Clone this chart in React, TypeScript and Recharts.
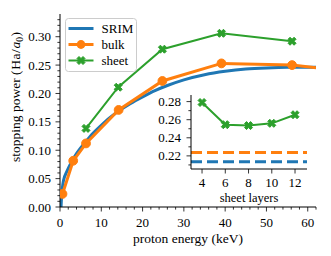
import React from "react";
import { ComposedChart, Line, XAxis, YAxis, CartesianGrid } from "recharts";

const FONT = "'Liberation Serif', 'Times New Roman', serif";
const BLUE = "#1f77b4";
const ORANGE = "#ff7f0e";
const GREEN = "#2ca02c";

// Main panel data
const srimEnergy = [0.25, 0.4, 0.6, 0.8, 1, 1.5, 2, 3, 4, 5, 6, 8, 10, 12, 14, 17, 20, 23, 26, 30, 35, 40, 45, 50, 55, 62];
const srimPower = [0.0, 0.02, 0.035, 0.045, 0.051, 0.06, 0.068, 0.082, 0.094, 0.104, 0.113, 0.13, 0.144, 0.157, 0.168, 0.182, 0.194, 0.205, 0.214, 0.224, 0.233, 0.239, 0.243, 0.245, 0.246, 0.246];
const bulkEnergy = [0.6, 3.2, 6.3, 14.2, 24.8, 39.1, 56.2, 80];
const bulkPower = [0.023, 0.0815, 0.112, 0.171, 0.222, 0.253, 0.25, 0.23];
const sheetEnergy = [6.3, 14.1, 24.8, 39.1, 56.2];
const sheetPower = [0.1385, 0.211, 0.278, 0.306, 0.292];

const mainXMajor = [0, 10, 20, 30, 40, 50, 60];
const mainXMinor = [2, 4, 6, 8, 12, 14, 16, 18, 22, 24, 26, 28, 32, 34, 36, 38, 42, 44, 46, 48, 52, 54, 56, 58, 62];
const mainYMajor = [0, 0.05, 0.1, 0.15, 0.2, 0.25, 0.3];
const mainYMinor = [0.01, 0.02, 0.03, 0.04, 0.06, 0.07, 0.08, 0.09, 0.11, 0.12, 0.13, 0.14, 0.16, 0.17, 0.18, 0.19, 0.21, 0.22, 0.23, 0.24, 0.26, 0.27, 0.28, 0.29, 0.31, 0.32, 0.33];

// Inset data
const layers = [4, 6, 8, 10, 12];
const sheetLayerPower = [0.279, 0.2545, 0.2535, 0.256, 0.2655];
const insetRange = [3.05, 13.03];
const bulkRef = 0.2237;
const srimRef = 0.2134;
const insetXMajor = [4, 6, 8, 10, 12];
const insetYMajor = [0.22, 0.24, 0.26, 0.28];
const insetYMinor = [0.21, 0.23, 0.25, 0.27];

const legendItems = [
  { name: "SRIM", color: BLUE, marker: "none", width: 3 },
  { name: "bulk", color: ORANGE, marker: "circle", width: 3 },
  { name: "sheet", color: GREEN, marker: "x", width: 2 },
];

const xLabel = "proton energy (keV)";
const yLabelText = "stopping power ";
const insetXLabel = "sheet layers";

const srimData = srimEnergy.map((x, i) => ({ x, y: srimPower[i] }));
const bulkData = bulkEnergy.map((x, i) => ({ x, y: bulkPower[i] }));
const sheetData = sheetEnergy.map((x, i) => ({ x, y: sheetPower[i] }));
const layerData = layers.map((x, i) => ({ x, y: sheetLayerPower[i] }));
const bulkRefData = insetRange.map((x) => ({ x, y: bulkRef }));
const srimRefData = insetRange.map((x) => ({ x, y: srimRef }));

const fmt = (v: number) => v.toFixed(2);

function xPath(cx: number, cy: number, s: number) {
  const pts = [[-1, -2], [0, -1], [1, -2], [2, -1], [1, 0], [2, 1], [1, 2], [0, 1], [-1, 2], [-2, 1], [-1, 0], [-2, -1]];
  return pts.map((p, i) => `${i === 0 ? "M" : "L"}${cx + p[0] * s},${cy + p[1] * s}`).join(" ") + " Z";
}

const XMarker = (props: any) => {
  const { cx, cy } = props;
  if (cx == null || cy == null) return null;
  return <path d={xPath(cx, cy, 2.0)} fill={GREEN} stroke={GREEN} strokeWidth={1} />;
};

const CircleMarker = (props: any) => {
  const { cx, cy } = props;
  if (cx == null || cy == null) return null;
  return <circle cx={cx} cy={cy} r={4.4} fill={ORANGE} stroke={ORANGE} strokeWidth={1} />;
};

const makeXTick = (majors: number[], labelDy: number, format: (v: number) => string) => (props: any) => {
  const { x, y, payload } = props;
  const major = majors.some((m) => Math.abs(m - payload.value) < 1e-9);
  return (
    <g>
      <line x1={x} x2={x} y1={y} y2={y + (major ? 4.5 : 2.6)} stroke="#000" strokeWidth={0.8} />
      {major && (
        <text x={x} y={y + labelDy} textAnchor="middle" fontSize={13} fontFamily={FONT} fill="#000">
          {format(payload.value)}
        </text>
      )}
    </g>
  );
};

const makeYTick = (majors: number[], gap: number) => (props: any) => {
  const { x, y, payload } = props;
  const major = majors.some((m) => Math.abs(m - payload.value) < 1e-9);
  return (
    <g>
      <line x1={x} x2={x - (major ? 4.5 : 2.6)} y1={y} y2={y} stroke="#000" strokeWidth={0.8} />
      {major && (
        <text x={x - gap} y={y + 4.5} textAnchor="end" fontSize={13} fontFamily={FONT} fill="#000">
          {fmt(payload.value)}
        </text>
      )}
    </g>
  );
};

const LegendBox = () => (
  <svg width={73} height={55} style={{ display: "block" }}>
    <rect x={0.5} y={0.5} width={71} height={53} rx={3} ry={3} fill="#fff" fillOpacity={0.8} stroke="#cccccc" strokeWidth={1} />
    {legendItems.map((it, i) => {
      const cy = 10.5 + i * 16;
      return (
        <g key={it.name}>
          <line x1={3.5} x2={28.5} y1={cy} y2={cy} stroke={it.color} strokeWidth={it.width} />
          {it.marker === "circle" && <circle cx={16} cy={cy} r={4.4} fill={it.color} />}
          {it.marker === "x" && <path d={xPath(16, cy, 2.0)} fill={it.color} stroke={it.color} strokeWidth={1} />}
          <text x={36.5} y={cy + 4.5} fontSize={13} fontFamily={FONT} fill="#000">
            {it.name}
          </text>
        </g>
      );
    })}
  </svg>
);

export default function App() {
  return (
    <div style={{ position: "absolute", left: 0, top: 0, width: 331, height: 256, background: "#fff" }}>
      <ComposedChart width={331} height={256} margin={{ top: 14, right: 15, bottom: 0, left: 0 }}>
        <XAxis
          type="number"
          dataKey="x"
          domain={[0, 62]}
          allowDataOverflow
          ticks={[...mainXMajor, ...mainXMinor].sort((a, b) => a - b)}
          interval={0}
          tickSize={0}
          tickMargin={0}
          tickLine={false}
          axisLine={{ stroke: "#000", strokeWidth: 1 }}
          tick={makeXTick(mainXMajor, 19.5, (v) => String(v))}
          height={49}
        />
        <XAxis xAxisId="top" orientation="top" type="number" domain={[0, 62]} height={0} tick={false} tickLine={false} axisLine={{ stroke: "#000", strokeWidth: 1 }} />
        <YAxis
          type="number"
          dataKey="y"
          domain={[0, 0.34]}
          allowDataOverflow
          ticks={[...mainYMajor, ...mainYMinor].sort((a, b) => a - b)}
          interval={0}
          tickSize={0}
          tickMargin={0}
          tickLine={false}
          axisLine={{ stroke: "#000", strokeWidth: 1 }}
          tick={makeYTick(mainYMajor, 9)}
          width={60}
        />
        <YAxis yAxisId="right" orientation="right" width={0} tick={false} tickLine={false} axisLine={{ stroke: "#000", strokeWidth: 1 }} />
        <Line data={srimData} dataKey="y" type="monotone" stroke={BLUE} strokeWidth={3} dot={false} isAnimationActive={false} />
        <Line data={bulkData} dataKey="y" type="linear" stroke={ORANGE} strokeWidth={3} dot={<CircleMarker />} activeDot={false} isAnimationActive={false} />
        <Line data={sheetData} dataKey="y" type="linear" stroke={GREEN} strokeWidth={2} dot={<XMarker />} activeDot={false} isAnimationActive={false} />
      </ComposedChart>
      <div style={{ position: "absolute", left: 64.5, top: 17.5, width: 73, height: 55 }}>
        <LegendBox />
      </div>
      <svg width={331} height={256} style={{ position: "absolute", left: 0, top: 0, pointerEvents: "none" }}>
        <text transform="translate(19.5,97) rotate(-90)" textAnchor="middle" fontSize={13.5} fontFamily={FONT} fill="#000">
          {yLabelText}
          <tspan letterSpacing={0.6}>(Ha/</tspan>
          <tspan fontStyle="italic">a</tspan>
          <tspan fontSize={9.5} dy={3}>0</tspan>
          <tspan dy={-3} dx={0.5}>)</tspan>
        </text>
        <text x={188} y={243} textAnchor="middle" fontSize={13.5} fontFamily={FONT} fill="#000">
          {xLabel}
        </text>
      </svg>
      <div style={{ position: "absolute", left: 150, top: 90, width: 160, height: 112 }}>
        <ComposedChart width={160} height={112} margin={{ top: 5, right: 3, bottom: 0, left: 0 }}>
          <CartesianGrid fill="#fff" horizontal={false} vertical={false} />
          <XAxis
            type="number"
            dataKey="x"
            domain={insetRange}
            allowDataOverflow
            ticks={insetXMajor}
            interval={0}
            tickSize={0}
            tickMargin={0}
            tickLine={false}
            axisLine={{ stroke: "#000", strokeWidth: 1 }}
            tick={makeXTick(insetXMajor, 18, (v) => String(v))}
            height={33}
          />
          <XAxis xAxisId="top" orientation="top" type="number" domain={insetRange} height={0} tick={false} tickLine={false} axisLine={{ stroke: "#000", strokeWidth: 1 }} />
          <YAxis
            type="number"
            dataKey="y"
            domain={[0.2055, 0.2873]}
            allowDataOverflow
            ticks={[...insetYMajor, ...insetYMinor].sort((a, b) => a - b)}
            interval={0}
            tickSize={0}
            tickMargin={0}
            tickLine={false}
            axisLine={{ stroke: "#000", strokeWidth: 1 }}
            tick={makeYTick(insetYMajor, 10)}
            width={41}
          />
          <YAxis yAxisId="right" orientation="right" width={0} tick={false} tickLine={false} axisLine={{ stroke: "#000", strokeWidth: 1 }} />
          <Line data={bulkRefData} dataKey="y" type="linear" stroke={ORANGE} strokeWidth={3} strokeDasharray="11 5" dot={false} isAnimationActive={false} />
          <Line data={srimRefData} dataKey="y" type="linear" stroke={BLUE} strokeWidth={3} strokeDasharray="11 5" dot={false} isAnimationActive={false} />
          <Line data={layerData} dataKey="y" type="linear" stroke={GREEN} strokeWidth={2} dot={<XMarker />} activeDot={false} isAnimationActive={false} />
        </ComposedChart>
      </div>
      <svg width={331} height={256} style={{ position: "absolute", left: 0, top: 0, pointerEvents: "none" }}>
        <text x={249} y={201.5} textAnchor="middle" fontSize={12.5} fontFamily={FONT} fill="#000">
          {insetXLabel}
        </text>
      </svg>
    </div>
  );
}
